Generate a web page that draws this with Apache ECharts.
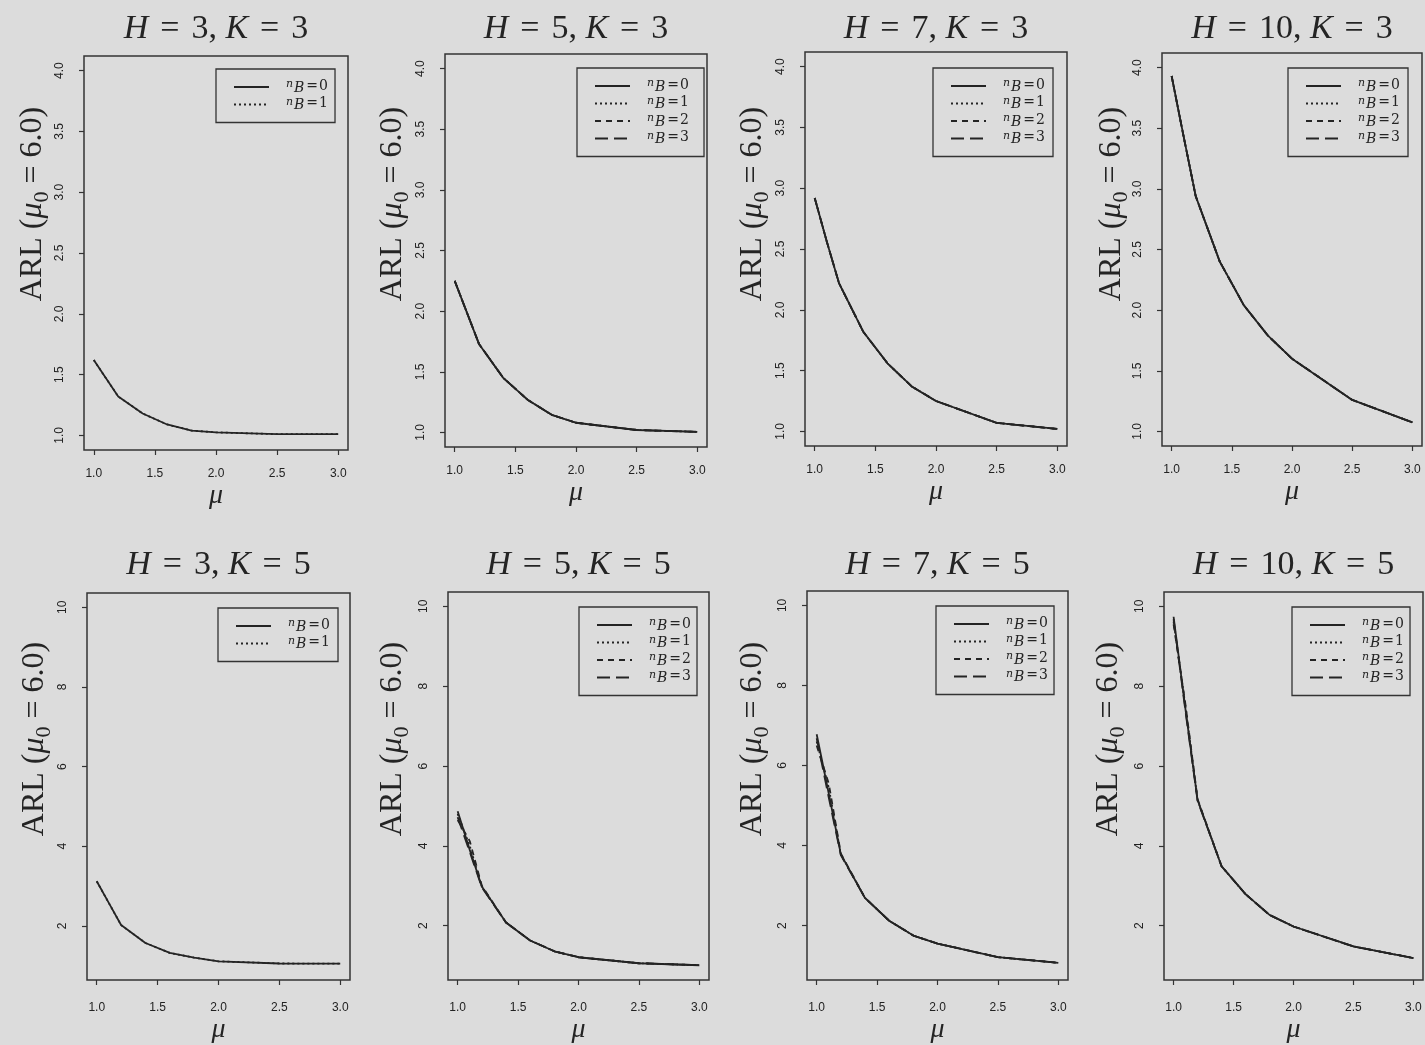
<!DOCTYPE html>
<html>
<head>
<meta charset="utf-8">
<script src="https://cdn.jsdelivr.net/npm/echarts@6/dist/echarts.min.js"></script>
<style>
  html, body { margin: 0; padding: 0; background: #dcdcdc; }
  #chart { width: 1425px; height: 1045px; }
</style>
</head>
<body>
<div id="chart"></div>
<script>
// mu values along the x axis
const mu = [1.0, 1.1, 1.2, 1.4, 1.6, 1.8, 2.0, 2.5, 3.0];
const xTicks = [1.0, 1.5, 2.0, 2.5, 3.0];
const yTicksK3 = [1.0, 1.5, 2.0, 2.5, 3.0, 3.5, 4.0];
const yTicksK5 = [2, 4, 6, 8, 10];

// ARL per panel, one list per n_B
const arlH3K3 = [
  [1.62, 1.47, 1.32, 1.18, 1.09, 1.04, 1.025, 1.01, 1.01],
  [1.62, 1.47, 1.32, 1.18, 1.09, 1.04, 1.025, 1.01, 1.01]
];
const arlH5K3 = [
  [2.25, 1.99, 1.73, 1.45, 1.27, 1.145, 1.08, 1.02, 1.005],
  [2.25, 1.99, 1.73, 1.45, 1.27, 1.145, 1.08, 1.02, 1.005],
  [2.25, 1.99, 1.73, 1.45, 1.27, 1.145, 1.08, 1.02, 1.005],
  [2.25, 1.99, 1.73, 1.45, 1.27, 1.145, 1.08, 1.02, 1.005]
];
const arlH7K3 = [
  [2.92, 2.56, 2.22, 1.82, 1.56, 1.37, 1.25, 1.07, 1.02],
  [2.92, 2.56, 2.22, 1.82, 1.56, 1.37, 1.25, 1.07, 1.02],
  [2.92, 2.56, 2.22, 1.82, 1.56, 1.37, 1.25, 1.07, 1.02],
  [2.92, 2.56, 2.22, 1.82, 1.56, 1.37, 1.25, 1.07, 1.02]
];
const arlH10K3 = [
  [3.93, 3.43, 2.94, 2.40, 2.04, 1.79, 1.60, 1.26, 1.075],
  [3.93, 3.43, 2.94, 2.40, 2.04, 1.79, 1.60, 1.26, 1.075],
  [3.93, 3.43, 2.94, 2.40, 2.04, 1.79, 1.60, 1.26, 1.075],
  [3.93, 3.43, 2.94, 2.40, 2.04, 1.79, 1.60, 1.26, 1.075]
];
const arlH3K5 = [
  [3.12, 2.57, 2.02, 1.57, 1.32, 1.20, 1.11, 1.055, 1.05],
  [3.12, 2.57, 2.02, 1.57, 1.32, 1.20, 1.11, 1.055, 1.05]
];
const arlH5K5 = [
  [4.87, 3.90, 2.98, 2.08, 1.63, 1.36, 1.21, 1.06, 1.01],
  [4.80, 4.00, 2.98, 2.08, 1.63, 1.36, 1.21, 1.06, 1.01],
  [4.65, 4.12, 3.00, 2.08, 1.63, 1.36, 1.21, 1.06, 1.01],
  [4.72, 3.85, 2.96, 2.08, 1.63, 1.36, 1.21, 1.06, 1.01]
];
const arlH7K5 = [
  [6.78, 5.30, 3.78, 2.69, 2.12, 1.75, 1.55, 1.21, 1.07],
  [6.60, 5.45, 3.78, 2.69, 2.12, 1.75, 1.55, 1.21, 1.07],
  [6.50, 5.55, 3.80, 2.69, 2.12, 1.75, 1.55, 1.21, 1.07],
  [6.68, 5.20, 3.76, 2.69, 2.12, 1.75, 1.55, 1.21, 1.07]
];
const arlH10K5 = [
  [9.74, 7.40, 5.15, 3.49, 2.79, 2.27, 1.98, 1.48, 1.19],
  [9.62, 7.48, 5.15, 3.49, 2.79, 2.27, 1.98, 1.48, 1.19],
  [9.55, 7.52, 5.17, 3.49, 2.79, 2.27, 1.98, 1.48, 1.19],
  [9.68, 7.35, 5.13, 3.49, 2.79, 2.27, 1.98, 1.48, 1.19]
];

const panels = [
  { H: 3, K: 3, arl: arlH3K3 },
  { H: 5, K: 3, arl: arlH5K3 },
  { H: 7, K: 3, arl: arlH7K3 },
  { H: 10, K: 3, arl: arlH10K3 },
  { H: 3, K: 5, arl: arlH3K5 },
  { H: 5, K: 5, arl: arlH5K5 },
  { H: 7, K: 5, arl: arlH7K5 },
  { H: 10, K: 5, arl: arlH10K5 }
];

// layout (px), rows x columns
const boxLeft = [[84, 445, 805, 1162], [87, 448, 807, 1164]];
const boxTop = [[56, 54, 52, 53], [593, 592, 591, 592]];
const boxWidth = [[264, 262, 262, 260], [263, 261, 261, 259]];
const boxHeight = [[394, 393, 394, 393], [392, 391, 392, 391]];
const legendLeft = [[216, 577, 933, 1288], [218, 579, 936, 1292]];
const legendTop = [[69, 68, 68, 68], [608, 607, 606, 607]];
const legendPadRight = [[7, 15, 8, 8], [8, 6, 6, 6]];
const yLabelX = [[33, 393, 753, 1112], [35, 393, 753, 1109]];
const yLabelY = [204, 739];
const titleTop = [12, 548];
const xLabelMargin = [18, 22];
const xNameGap = [32, 36];

const serif = '"Liberation Serif", "DejaVu Serif", serif';
const wideSerif = '"DejaVu Serif", serif';
const sans = '"Liberation Sans", Arial, sans-serif';
const ink = '#242424';
const dashTypes = ['solid', [2, 3], [6, 5], [13, 6]];

const grid = [], xAxis = [], yAxis = [], series = [], legend = [], title = [], graphic = [];

panels.forEach((p, i) => {
  const r = Math.floor(i / 4), c = i % 4;
  const left = boxLeft[r][c], top = boxTop[r][c];
  const w = boxWidth[r][c], h = boxHeight[r][c];
  const yTicks = p.K === 3 ? yTicksK3 : yTicksK5;

  grid.push({
    left: left, top: top, width: w, height: h,
    show: true, borderColor: '#333', borderWidth: 1.5, backgroundColor: 'transparent'
  });

  xAxis.push({
    type: 'value', gridIndex: i, min: 0.92, max: 3.08,
    axisLine: { show: false },
    axisTick: { show: true, length: 5, customValues: xTicks, lineStyle: { color: '#333', width: 1.2 } },
    axisLabel: {
      customValues: xTicks, margin: xLabelMargin[r], fontFamily: sans, fontSize: 12, color: '#222',
      formatter: (v) => Number(v).toFixed(1)
    },
    splitLine: { show: false },
    name: 'μ', nameLocation: 'middle', nameGap: xNameGap[r],
    nameTextStyle: { fontFamily: serif, fontStyle: 'italic', fontSize: 28, color: ink }
  });

  yAxis.push({
    type: 'value', gridIndex: i,
    min: p.K === 3 ? 0.88 : 0.64, max: p.K === 3 ? 4.12 : 10.36,
    axisLine: { show: false },
    axisTick: { show: true, length: 5, customValues: yTicks, lineStyle: { color: '#333', width: 1.2 } },
    axisLabel: {
      customValues: yTicks, margin: 18, rotate: 90, fontFamily: sans, fontSize: 12, color: '#222',
      formatter: (v) => (p.K === 3 ? Number(v).toFixed(1) : String(v))
    },
    splitLine: { show: false }
  });

  const names = [];
  p.arl.forEach((vals, k) => {
    const name = 'p' + i + '_' + k;
    names.push(name);
    series.push({
      name: name, type: 'line', xAxisIndex: i, yAxisIndex: i,
      data: mu.map((m, j) => [m, vals[j]]),
      symbol: 'none', silent: true,
      lineStyle: { color: ink, width: 1.8, type: dashTypes[k] },
      itemStyle: { color: ink }
    });
  });

  legend.push({
    data: names, orient: 'vertical', left: legendLeft[r][c], top: legendTop[r][c],
    align: 'left', itemWidth: 35, itemHeight: 12, itemGap: 1.5,
    padding: [10, legendPadRight[r][c], 10, 17], borderColor: '#333', borderWidth: 1.3,
    selectedMode: false,
    itemStyle: { color: 'rgba(0,0,0,0)', borderWidth: 0 },
    formatter: (name) => '{n|n}{b|B}{q|=}{d|' + name.split('_')[1] + '}',
    textStyle: {
      fontFamily: wideSerif, fontSize: 14, color: ink,
      rich: {
        n: { fontFamily: wideSerif, fontStyle: 'italic', fontSize: 11, color: ink, lineHeight: 16, verticalAlign: 'top', padding: [0, 1, 0, 12] },
        b: { fontFamily: wideSerif, fontStyle: 'italic', fontSize: 14, color: ink, lineHeight: 16, verticalAlign: 'bottom', padding: [0, 1, 0, 0] },
        q: { fontFamily: wideSerif, fontSize: 14, color: ink, lineHeight: 16, verticalAlign: 'top', padding: [0, 1, 0, 1] },
        d: { fontFamily: wideSerif, fontSize: 14, color: ink, lineHeight: 16, verticalAlign: 'top' }
      }
    }
  });

  title.push({
    text: '{i|H}{q|=}' + p.H + ', {i|K}{q|=}' + p.K,
    left: left + w / 2, top: titleTop[r], textAlign: 'center', padding: 0,
    textStyle: {
      fontFamily: serif, fontSize: 34, fontWeight: 'normal', color: ink,
      rich: {
        i: { fontFamily: serif, fontStyle: 'italic', fontSize: 34, color: ink },
        q: { fontFamily: serif, fontSize: 34, color: ink, padding: [0, 12, 0, 12] }
      }
    }
  });

  graphic.push({
    type: 'text', x: yLabelX[r][c], y: yLabelY[r], rotation: Math.PI / 2, silent: true,
    style: {
      text: 'ARL ({m|μ}{s|0} = 6.0)',
      fontFamily: serif, fontSize: 32, fill: ink,
      align: 'center', verticalAlign: 'middle',
      textAlign: 'center', textVerticalAlign: 'middle',
      rich: {
        m: { fontFamily: serif, fontStyle: 'italic', fontSize: 32, fill: ink, color: ink },
        s: { fontFamily: serif, fontSize: 22, fill: ink, color: ink, lineHeight: 40, verticalAlign: 'bottom' }
      }
    }
  });
});

const chart = echarts.init(document.getElementById('chart'));
chart.setOption({
  animation: false,
  backgroundColor: 'transparent',
  title: title,
  legend: legend,
  grid: grid,
  xAxis: xAxis,
  yAxis: yAxis,
  series: series,
  graphic: graphic
});
</script>
</body>
</html>
